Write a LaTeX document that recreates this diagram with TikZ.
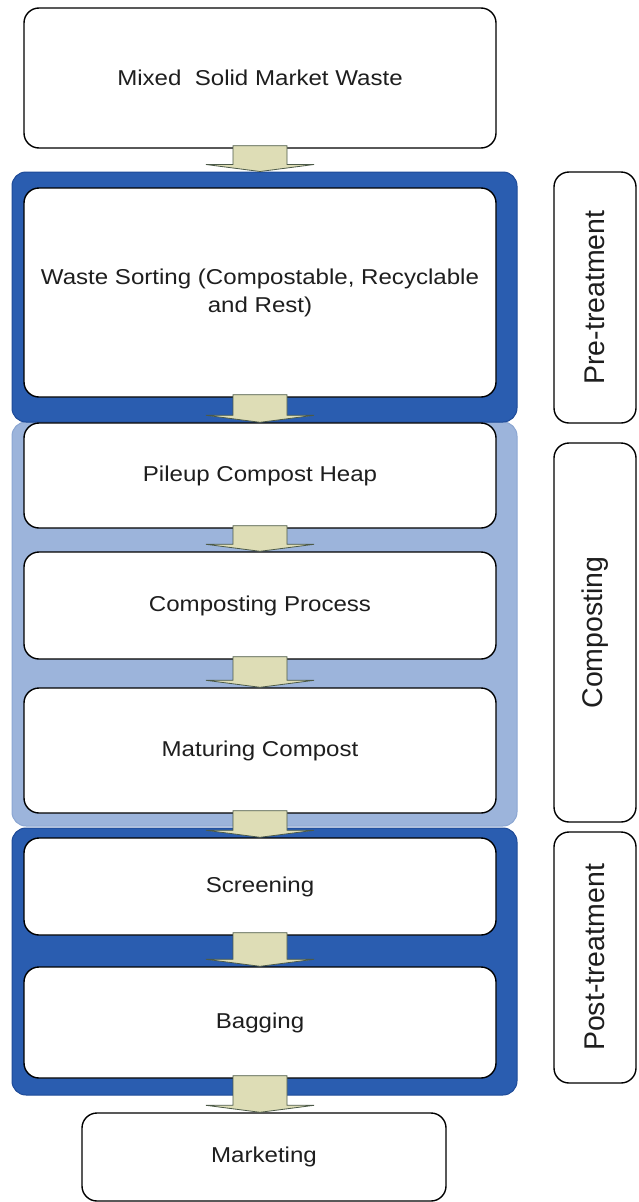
\documentclass[tikz,border=0pt]{standalone}
\usepackage{fontspec}
\setmainfont{Liberation Sans}[FakeStretch=1.12]
\newfontfamily\sidefont{Liberation Sans}
\usepackage{xcolor}
\definecolor{bandDark}{HTML}{2A5DB0}
\definecolor{bandDarkEdge}{HTML}{1D4A98}
\definecolor{bandLight}{HTML}{9CB4DB}
\definecolor{bandLightEdge}{HTML}{8BA6D2}
\definecolor{arrowFill}{HTML}{DEDDB6}
\definecolor{arrowEdge}{HTML}{4C5A48}
\definecolor{inkText}{HTML}{1E1E1E}
\usetikzlibrary{calc}
\newcommand{\boxfont}{\fontsize{21.5}{28}\selectfont}
\newcommand{\flow}[2]{%
  \filldraw[flowarrow] ($(#1.south)+(-27,-3)$) -- ($(#1.south)+(27,-3)$)
    -- ($(#1.south |- #2.north)+(27,-7)$) -- ($(#1.south |- #2.north)+(54,-7)$)
    -- (#1.south |- #2.north)
    -- ($(#1.south |- #2.north)+(-54,-7)$) -- ($(#1.south |- #2.north)+(-27,-7)$) -- cycle;}

\begin{document}
\begin{tikzpicture}[x=1pt,y=-1pt,
    stepbox/.style={draw=black, line width=1.4pt, rounded corners=15pt, fill=white,
      text=inkText, align=center, font=\boxfont, minimum width=472pt},
    sidebox/.style={draw=black, line width=1.4pt, rounded corners=15pt, fill=white,
      text=inkText, rotate=90, font=\sidefont\fontsize{28.5}{32}\selectfont, minimum height=82pt},
    darkband/.style={fill=bandDark, draw=bandDarkEdge, line width=1pt,
      rounded corners=14pt, minimum width=505pt},
    lightband/.style={fill=bandLight, draw=bandLightEdge, line width=1pt,
      rounded corners=14pt, minimum width=505pt},
    flowarrow/.style={fill=arrowFill, draw=arrowEdge, line width=0.8pt}]
  \useasboundingbox (0,0) rectangle (638,1202);

  % stage bands
  \node[lightband, minimum height=404pt] (comp) at (264.5,624) {};
  \node[darkband, minimum height=250pt] (pre) at (264.5,297) {};
  \node[darkband, minimum height=267pt] (post) at (264.5,961.5) {};

  % process steps
  \node[stepbox, minimum height=140pt] (mixed) at (260,78) {Mixed\ \ Solid Market Waste};
  \node[stepbox, minimum height=209pt] (sort) at (260,292.5) {Waste Sorting (Compostable, Recyclable\\and Rest)};
  \node[stepbox, minimum height=105pt] (pile) at (260,475.5) {Pileup Compost Heap};
  \node[stepbox, minimum height=107pt] (process) at (260,605.5) {Composting Process};
  \node[stepbox, minimum height=125pt] (mature) at (260,750.5) {Maturing Compost};
  \node[stepbox, minimum height=97pt] (screen) at (260,886.5) {Screening};
  \node[stepbox, minimum height=111pt] (bag) at (260,1022.5) {Bagging};
  \node[stepbox, minimum width=364pt, minimum height=88pt] (market) at (264,1157) {Marketing};

  % stage labels
  \node[sidebox, minimum width=251pt] (sidepre) at (595,297.5) {Pre-treatment};
  \node[sidebox, minimum width=379pt] (sidecomp) at (595,632.5) {Composting};
  \node[sidebox, minimum width=251pt] (sidepost) at (595,957.5) {Post-treatment};

  % block arrows
  \flow{mixed}{pre}
  \flow{sort}{pile}
  \flow{pile}{process}
  \flow{process}{mature}
  \flow{mature}{screen}
  \flow{screen}{bag}
  \flow{bag}{market}
\end{tikzpicture}
\end{document}
